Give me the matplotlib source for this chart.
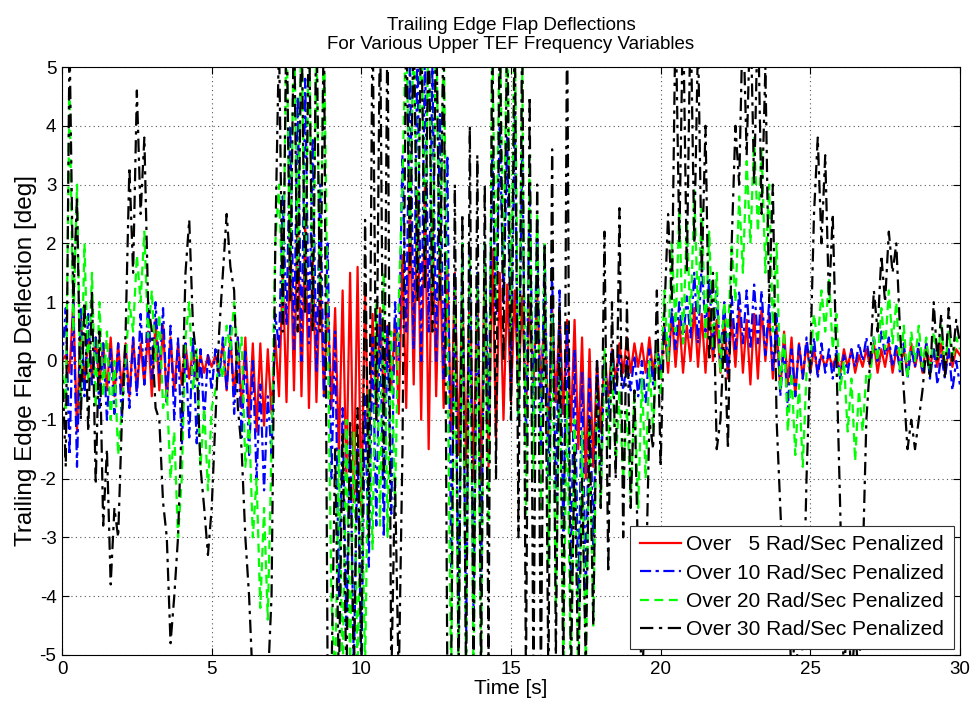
import numpy as np
import matplotlib
matplotlib.use('Agg')
import matplotlib.pyplot as plt

plt.rcParams['font.family'] = ['Liberation Sans', 'DejaVu Sans']
plt.rcParams['axes.unicode_minus'] = False

# flap deflection extremes [deg], one row per second, sampled every 0.125 s
dt = 0.125

red_5 = """
0.0 0.1 -0.2 1.0 -1.2 0.8 -0.4 0.4
-0.3 0.4 -0.4 0.3 -0.5 0.4 -0.6 0.3
-0.5 0.3 -0.6 0.4 -0.5 0.3 -0.4 0.5
-0.6 0.7 -0.5 0.6 -0.7 0.4 -0.5 0.3
-0.4 0.3 -0.3 0.2 -0.3 0.1 -0.2 0.1
-0.1 0.1 -0.2 0.3 -0.5 0.4 -0.6 0.4
-0.8 0.4 -1.0 0.3 -1.2 0.3 -1.1 0.2
-0.9 0.4 -0.6 1.5 -0.7 2.2 -0.5 2.5
-0.6 2.3 -0.8 1.8 -0.7 1.5 -0.6 1.0
-0.8 0.9 -1.6 1.2 -2.0 1.5 -2.4 1.6
-2.6 1.2 -1.8 0.8 -1.0 0.9 -0.7 0.6
-0.5 0.7 -0.9 1.8 -0.8 2.6 -0.4 2.9
-1.0 3.0 -1.5 2.5 -0.6 1.9 -0.8 1.6
-1.2 1.5 -1.6 1.2 -1.8 1.4 -2.0 1.3
-2.1 1.8 -1.8 1.9 -1.3 1.5 -1.0 1.3
-0.7 1.2 -0.5 1.1 -0.9 1.0 -0.4 1.2
-0.6 1.0 -1.3 0.9 -0.7 0.8 -0.9 0.7
-1.2 0.7 -1.5 0.4 -2.0 0.2 -1.8 0.0
-1.2 0.1 -0.6 0.2 -0.3 0.3 -0.2 0.4
-0.2 0.3 -0.1 0.3 -0.2 0.4 -0.2 0.3
-0.3 0.6 -0.2 0.8 -0.1 0.7 -0.2 0.6
0.0 0.9 -0.1 0.8 -0.2 0.9 0.0 0.7
-0.2 0.8 -0.3 0.7 -0.1 0.9 -0.2 0.7
-0.4 0.8 -0.3 0.9 0.0 0.8 -0.3 0.6
-0.5 0.5 -0.4 0.4 -0.6 0.3 -0.3 0.3
-0.2 0.2 -0.2 0.1 -0.1 0.1 -0.1 0.1
-0.2 0.2 -0.1 0.2 -0.2 0.1 -0.1 0.2
-0.1 0.3 -0.2 0.2 -0.1 0.3 -0.2 0.2
-0.1 0.2 -0.2 0.3 -0.1 0.2 -0.2 0.3
-0.1 0.2 -0.1 0.3 -0.2 0.2 -0.1 0.2
0.1
"""

blue_10 = """
0.0 0.9 -1.6 1.0 -1.8 0.9 -0.6 0.8
-0.4 0.4 -0.8 0.3 -1.0 0.2 -0.9 0.3
-1.0 0.2 -0.8 0.4 -0.6 0.8 -0.4 1.0
-0.3 1.0 -0.2 0.9 -0.7 0.6 -1.0 0.4
-1.5 0.3 -1.3 0.4 -1.4 0.2 -1.0 0.1
-0.5 0.2 -0.3 0.4 -0.5 0.6 -0.9 0.4
-1.3 0.2 -1.6 0.0 -2.0 -0.4 -2.2 -0.6
-1.6 0.8 0.2 2.8 0.6 4.0 0.2 4.5
0.0 4.8 0.3 3.8 -0.2 3.0 -0.6 2.0
-2.0 0.5 -4.0 -0.8 -4.5 -1.2 -5.2 -1.5
-5.2 -0.6 -3.5 0.4 -2.8 0.8 -3.0 0.6
-2.6 1.0 0.0 3.5 0.5 5.2 0.2 5.4
0.0 5.4 0.5 5.0 0.0 4.2 -0.3 3.5
-3.5 1.5 -4.5 2.0 -4.8 1.8 -4.3 1.5
-4.0 2.0 -1.0 3.5 0.8 4.0 1.0 3.8
-0.5 4.2 -1.0 3.6 -1.4 3.0 -1.2 2.4
-1.5 2.0 -2.0 1.6 -2.4 1.2 -3.0 0.6
-3.6 0.2 -4.2 -0.2 -4.0 -0.3 -3.2 0.0
-2.2 0.1 -1.0 0.2 -0.6 0.1 -0.5 0.0
-0.5 0.1 -0.6 0.0 -0.7 0.2 -0.4 0.3
-0.2 0.6 0.0 0.9 0.2 1.0 0.3 1.1
0.4 1.5 0.3 1.7 0.5 1.4 0.2 1.2
0.0 1.0 -0.2 1.1 0.2 1.2 0.3 1.2
0.2 1.3 0.3 1.2 0.1 1.0 -0.2 0.8
-0.6 0.3 -0.8 0.2 -0.6 0.3 -0.3 0.4
-0.2 0.4 -0.3 0.3 -0.2 0.2 -0.3 0.2
-0.3 0.1 -0.2 0.2 -0.1 0.3 0.0 0.4
-0.1 0.4 0.0 0.5 0.1 0.4 -0.1 0.3
-0.2 0.3 -0.3 0.2 -0.1 0.3 -0.2 0.3
-0.3 0.2 -0.4 0.1 -0.3 0.2 -0.5 0.0
-0.4
"""

green_20 = """
0.0 -0.8 4.6 0.5 3.0 -0.8 2.0 -0.4
1.5 -0.8 1.0 -0.6 0.5 -1.0 0.0 -1.6
-0.8 0.0 1.0 0.5 1.8 1.0 2.2 0.4
1.2 0.0 0.8 -0.8 -0.5 -2.0 -1.2 -3.0
-2.0 0.4 1.0 -0.5 0.2 -1.8 -0.8 -2.2
-0.8 -0.5 0.0 -0.3 0.6 0.2 1.0 0.0
0.4 -1.8 -1.0 -3.0 -2.0 -4.2 -2.5 -4.4
-1.5 2.0 3.0 0.8 5.8 1.2 6.0 1.5
6.0 1.0 6.0 0.8 5.5 1.0 5.8 0.6
-4.0 -5.5 -1.5 -5.5 -1.0 -5.2 -1.2 -5.4
-1.5 -5.3 -0.5 -3.2 1.0 -2.8 1.5 -3.0
0.5 -2.5 1.0 3.0 6.0 2.0 6.0 1.5
6.0 1.8 6.0 1.2 6.0 1.0 5.5 0.5
-5.5 1.2 -5.5 2.0 -5.3 1.8 -5.5 1.5
-5.2 2.0 -3.0 5.5 1.0 6.0 1.5 6.0
0.5 6.0 -1.0 5.0 -2.6 3.5 -2.0 2.5
-2.5 2.0 -3.5 0.8 -4.2 0.0 -5.0 -0.5
-5.5 -1.0 -5.5 -1.2 -5.3 -1.0 -4.5 -0.5
-2.5 0.2 -1.5 0.0 -1.8 -0.5 -2.0 -0.8
-2.4 -0.5 -2.5 -0.3 -2.0 0.0 -1.2 0.3
-0.6 1.2 0.0 2.0 0.5 2.6 0.3 2.4
0.6 2.9 0.8 2.6 0.4 2.2 0.2 1.5
-0.2 1.0 0.4 2.0 1.0 2.8 1.5 3.4
2.0 3.8 2.2 3.6 1.5 3.0 0.5 2.0
-0.5 0.5 -1.2 -0.2 -1.6 -0.4 -1.8 -0.2
0.0 0.8 0.3 1.2 0.5 1.4 0.2 0.8
-0.5 0.0 -1.2 -0.3 -1.7 -0.5 -1.2 -0.2
-0.3 0.4 0.0 0.9 0.2 1.2 0.3 1.0
-0.2 0.6 -0.3 0.5 0.0 0.6 -0.1 0.4
-0.2 0.5 0.0 0.6 -0.1 0.5 0.0 0.4
0.2
"""

black_30 = """
0.0 -1.8 5.5 1.0 2.8 -1.0 1.0 -1.2
1.2 -2.1 0.5 -2.8 -1.5 -3.8 -2.5 -3.0
-1.0 0.5 3.3 1.5 4.6 2.5 3.8 1.0
0.5 -0.8 -1.0 -2.4 -3.0 -4.8 -4.0 -3.0
-1.0 1.5 2.4 0.6 0.0 -1.8 -2.5 -3.3
-2.5 -1.0 0.5 1.5 2.5 1.6 1.2 -0.8
-1.5 -3.0 -4.0 -5.5 -5.5 -5.5 -5.5 -5.5
-4.0 2.0 5.5 0.5 6.0 1.0 6.0 0.5
6.0 0.8 6.0 0.5 6.0 0.5 6.0 -5.5
-5.5 -1.5 -5.5 -1.2 -5.5 -1.0 -5.5 -0.8
-5.5 2.4 -3.0 6.0 -1.0 6.0 -2.0 6.0
-5.5 -2.0 -5.5 -1.5 6.0 1.5 6.0 1.0
6.0 1.2 6.0 0.5 6.0 1.0 6.0 -5.5
-5.5 3.0 -5.5 2.5 -5.5 4.0 -5.5 3.5
-5.5 3.0 -5.0 6.0 -2.0 6.0 0.0 6.0
-1.0 6.0 -3.0 6.0 -5.5 4.5 -5.5 3.0
-5.5 2.0 -5.5 3.6 -5.0 1.0 -5.5 6.0
-5.5 -1.5 -5.5 -2.0 -5.2 -1.0 -4.5 0.0
-2.5 2.2 -3.6 1.0 -2.0 2.6 -3.0 1.0
-2.5 -0.5 -3.5 -5.5 -4.0 -1.0 -1.5 1.2
-1.8 0.8 2.5 1.0 6.0 2.0 6.0 1.5
6.0 2.0 5.5 1.5 4.0 0.0 1.5 -1.5
-1.0 0.5 -1.5 2.0 4.0 3.0 6.0 3.5
6.0 3.0 6.0 2.5 5.0 1.0 3.0 -1.0
-2.5 -4.0 -3.5 -5.5 -4.5 -5.5 -4.8 -2.0
0.0 2.5 3.8 2.0 3.5 1.0 2.5 0.0
-2.5 -5.5 -4.0 -5.5 -4.5 -5.5 -3.5 -1.0
0.0 1.2 0.5 1.8 1.0 2.2 1.5 2.0
0.5 -0.5 -1.5 -1.0 -1.5 -1.0 -0.5 0.2
-0.3 1.0 0.0 0.8 -0.3 0.9 0.0 0.7
0.3
"""

labels = ['Over   5 Rad/Sec Penalized', 'Over 10 Rad/Sec Penalized',
          'Over 20 Rad/Sec Penalized', 'Over 30 Rad/Sec Penalized']


def parse(s):
    return np.array(s.split(), dtype=float)


series = [parse(red_5), parse(blue_10), parse(green_20), parse(black_30)]

fig = plt.figure(figsize=(9.77, 7.09), dpi=100)
ax = fig.add_axes([0.0635, 0.0762, 0.919, 0.8293])

styles = [dict(color='#ff0000', linestyle='-'),
          dict(color='#0000ff', linestyle=(0, (5, 2, 1.5, 2))),
          dict(color='#00ff00', linestyle=(0, (4, 2.5))),
          dict(color='#000000', linestyle=(0, (6, 2.5, 1.5, 2.5)))]

for y, st, lab in zip(series, styles, labels):
    t = np.arange(len(y)) * dt
    ax.plot(t, y, linewidth=1.6, label=lab, **st)

ax.set_xlim(0, 30)
ax.set_ylim(-5, 5)
ax.set_xticks(np.arange(0, 31, 5))
ax.set_yticks(np.arange(-5, 6, 1))
ax.tick_params(direction='in', length=5, top=True, right=True, pad=4,
               labelsize=13.5)
ax.grid(True, linestyle=(0, (1, 3)), color='#555555', linewidth=0.8)
for sp in ax.spines.values():
    sp.set_linewidth(0.8)

ax.set_xlabel('Time [s]', fontsize=15, labelpad=1)
ax.set_ylabel('Trailing Edge Flap Deflection [deg]', fontsize=17.5, labelpad=2)
ax.set_title('Trailing Edge Flap Deflections\nFor Various Upper TEF Frequency Variables',
             fontsize=13.5, pad=13, linespacing=1.15)

leg = ax.legend(loc='lower right', prop={'size': 15}, fancybox=False, framealpha=1,
                edgecolor='#333333', handlelength=2.0, borderaxespad=0.3,
                labelspacing=0.45, handletextpad=0.25, borderpad=0.45)
leg.get_frame().set_linewidth(0.8)

fig.savefig('out.png', dpi=100)
